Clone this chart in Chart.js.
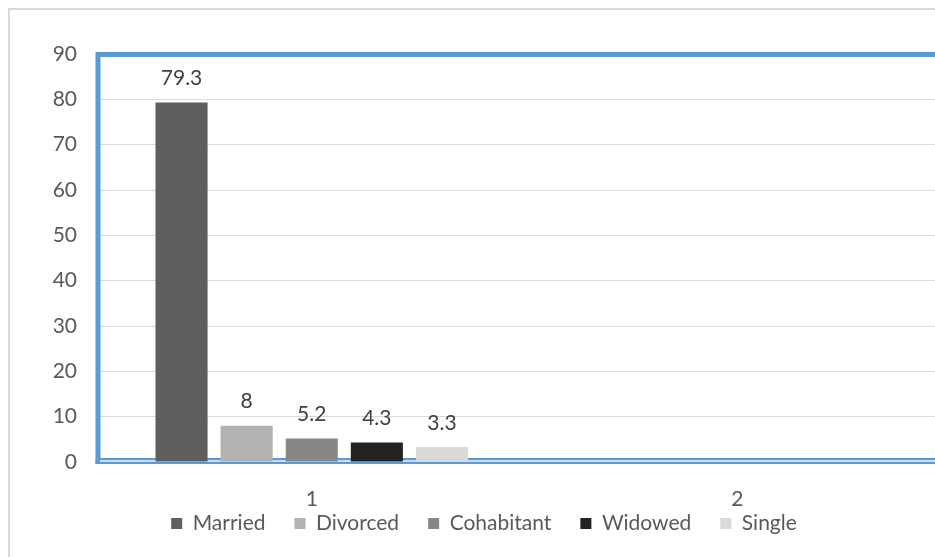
<!DOCTYPE html>
<html>
<head>
<meta charset="utf-8">
<script src="https://cdn.jsdelivr.net/npm/chart.js@4.4.1/dist/chart.umd.min.js"></script>
<style>
    html, body { margin: 0; padding: 0; background: #fff; overflow: hidden; }
    #frame { position: absolute; left: 8px; top: 8px; width: 1000px; height: 600px; border: 2px solid #d9d9d9; }
    #marital { position: absolute; left: 0; top: 0; }
</style>
</head>
<body>
<div id="frame"></div>
<canvas id="marital" width="966" height="544"></canvas>
<script>
// marital status shares, only group 1 has values
var categories = ["1", "2"];
var seriesNames = ["Married", "Divorced", "Cohabitant", "Widowed", "Single"];
var married = [79.3, null];
var divorced = [8, null];
var cohabitant = [5.2, null];
var widowed = [4.3, null];
var single = [3.3, null];
var yTicks = [0, 10, 20, 30, 40, 50, 60, 70, 80, 90];

var barColors = ["#5f5f5f", "#b2b2b2", "#878787", "#222222", "#d9d9d9"];
var seriesValues = [married, divorced, cohabitant, widowed, single];

var FONT = { family: "Lato", size: 21 };

// blue frame around the plot area (Excel style)
var plotFrame = {
    id: "plotFrame",
    beforeDatasetsDraw: function (chart) {
        var a = chart.chartArea, ctx = chart.ctx;
        ctx.save();
        ctx.strokeStyle = "#5b9bd5";
        ctx.lineWidth = 5;
        ctx.beginPath();
        ctx.moveTo(a.left - 1, a.bottom + 2);
        ctx.lineTo(a.left - 1, a.top + 0.5);
        ctx.lineTo(a.right + 20, a.top + 0.5);
        ctx.stroke();
        // bottom edge with the axis line inside it
        ctx.fillStyle = "#5b9bd5";
        ctx.fillRect(a.left - 3.5, a.bottom - 4, a.right - a.left + 30, 6);
        ctx.fillStyle = "#cfdbe7";
        ctx.fillRect(a.left + 1, a.bottom - 2, a.right - a.left + 30, 2);
        ctx.restore();
    }
};

// value labels above each bar
var barValues = {
    id: "barValues",
    afterDatasetsDraw: function (chart) {
        var ctx = chart.ctx;
        ctx.save();
        ctx.font = FONT.size + "px " + FONT.family;
        ctx.fillStyle = "#404040";
        ctx.textAlign = "center";
        ctx.textBaseline = "middle";
        chart.data.datasets.forEach(function (ds, i) {
            var meta = chart.getDatasetMeta(i);
            meta.data.forEach(function (bar, j) {
                var v = ds.data[j];
                if (v === null || v === undefined) return;
                ctx.fillText(String(v), bar.x, bar.y - 24);
            });
        });
        ctx.restore();
    }
};

var datasets = seriesNames.map(function (name, i) {
    return {
        label: name,
        data: seriesValues[i],
        backgroundColor: barColors[i],
        borderWidth: 0,
        barPercentage: 0.8,
        categoryPercentage: 0.765
    };
});

new Chart(document.getElementById("marital"), {
    type: "bar",
    data: { labels: categories, datasets: datasets },
    plugins: [plotFrame, barValues],
    options: {
        responsive: false,
        animation: false,
        devicePixelRatio: 1,
        layout: { padding: { top: 54, right: 16, left: 18, bottom: 0 } },
        scales: {
            x: {
                grid: { display: false },
                border: { display: false },
                ticks: { color: "#595959", font: FONT, padding: 17 },
                afterFit: function (s) {
                    s.height = 22;
                    // labels hang into the legend's top padding, so don't clip them to the axis box
                    s._computeLabelArea = function () { return undefined; };
                }
            },
            y: {
                min: 0,
                max: 90,
                afterBuildTicks: function (s) { s.ticks = yTicks.map(function (v) { return { value: v }; }); },
                grid: { color: "#d9d9d9", lineWidth: 1, drawTicks: false },
                border: { display: false },
                ticks: { color: "#595959", font: FONT, padding: 22 },
                afterFit: function (s) { s.width = 81; }
            }
        },
        plugins: {
            legend: {
                position: "bottom",
                labels: { boxWidth: 11, boxHeight: 11, padding: 29, color: "#595959", font: FONT }
            },
            tooltip: { enabled: false }
        }
    }
});
</script>
</body>
</html>
